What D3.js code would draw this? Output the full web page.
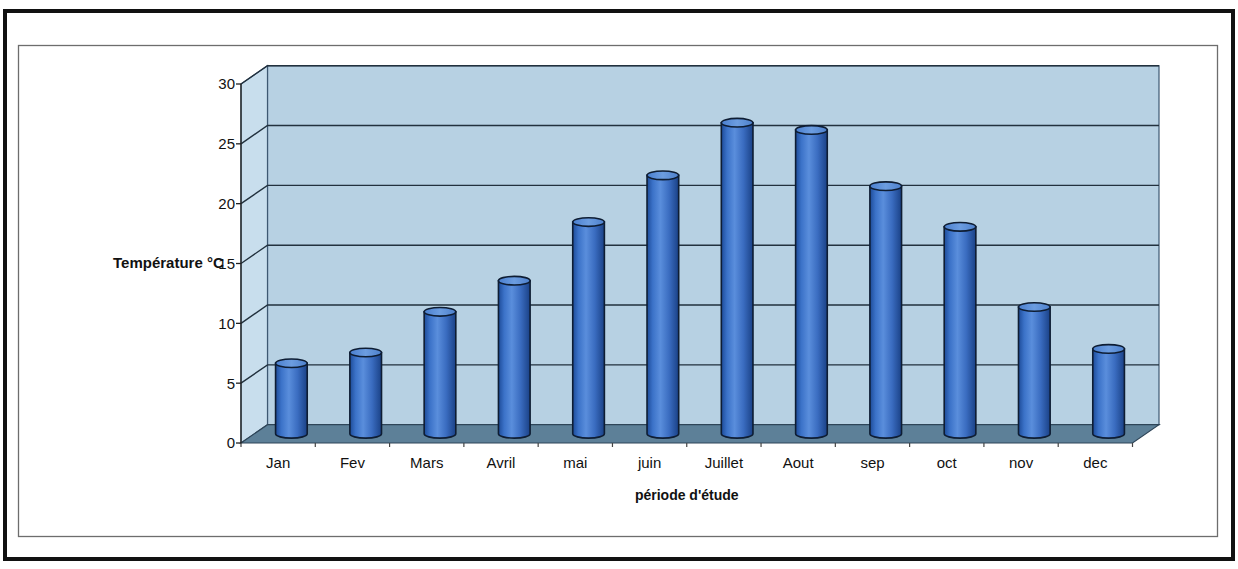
<!DOCTYPE html>
<html>
<head>
<meta charset="utf-8">
<script src="https://cdn.jsdelivr.net/npm/d3@7/dist/d3.min.js"></script>
<style>
  html, body { margin: 0; padding: 0; background: #fff; }
  svg { display: block; font-family: "Liberation Sans", Arial, sans-serif; }
</style>
</head>
<body>
<svg id="chart" width="1238" height="569"></svg>
<script>
// Monthly mean temperatures over the study period
const months = ["Jan", "Fev", "Mars", "Avril", "mai", "juin", "Juillet", "Aout", "sep", "oct", "nov", "dec"];
const temperatures = [5.9, 6.8, 10.2, 12.8, 17.7, 21.6, 26.0, 25.4, 20.7, 17.3, 10.6, 7.1];
const yTicks = [0, 5, 10, 15, 20, 25, 30];
const yTitle = "Température °C";
const xTitle = "période d'étude";

const svg = d3.select("#chart");

// 3D frame geometry: front plane plus a depth offset toward the back wall
const front = { left: 241, right: 1132.5, bottom: 443, top: 84 };
const depth = { dx: 26.5, dy: -18.3 };

const x = d3.scaleBand().domain(months).range([front.left, front.right]).padding(0);
const y = d3.scaleLinear().domain([0, 30]).range([front.bottom, front.top]);

const defs = svg.append("defs");
const grad = defs.append("linearGradient").attr("id", "cyl").attr("x1", "0%").attr("x2", "100%");
[["0%", "#1d4b98"], ["18%", "#3b72c8"], ["42%", "#5a8edc"], ["70%", "#3a6cc0"], ["100%", "#1a4186"]]
  .forEach(([o, c]) => grad.append("stop").attr("offset", o).attr("stop-color", c));
const tgrad = defs.append("linearGradient").attr("id", "cyltop").attr("x1", "0%").attr("x2", "100%");
[["0%", "#4a7fcf"], ["50%", "#6c9de0"], ["100%", "#4d80cc"]]
  .forEach(([o, c]) => tgrad.append("stop").attr("offset", o).attr("stop-color", c));

// Outer page border and inner chart area border
svg.append("rect").attr("x", 5).attr("y", 11).attr("width", 1228).attr("height", 548)
  .attr("fill", "none").attr("stroke", "#111").attr("stroke-width", 4);
svg.append("rect").attr("x", 18.5).attr("y", 45.5).attr("width", 1199).attr("height", 491)
  .attr("fill", "#fff").attr("stroke", "#6d6d6d").attr("stroke-width", 1.3);

const back = {
  left: front.left + depth.dx, right: front.right + depth.dx,
  top: front.top + depth.dy, bottom: front.bottom + depth.dy
};

// Back wall
svg.append("rect").attr("x", back.left).attr("y", back.top)
  .attr("width", back.right - back.left).attr("height", back.bottom - back.top)
  .attr("fill", "#b7d1e3").attr("stroke", "#3d5872").attr("stroke-width", 1.2);

// Side wall
svg.append("path")
  .attr("d", `M${front.left},${front.top}L${back.left},${back.top}L${back.left},${back.bottom}L${front.left},${front.bottom}Z`)
  .attr("fill", "#c8deed").attr("stroke", "#3d5872").attr("stroke-width", 1.2);

// Gridlines across side and back walls
const grid = svg.append("g").attr("stroke", "#22313e").attr("stroke-width", 1.4).attr("fill", "none");
yTicks.filter(v => v > 0).forEach(v => {
  const yf = y(v), yb = y(v) + depth.dy;
  grid.append("path").attr("d", `M${front.left},${yf}L${back.left},${yb}L${back.right},${yb}`);
});

// Floor
svg.append("path")
  .attr("d", `M${front.left},${front.bottom}L${front.right},${front.bottom}L${back.right},${back.bottom}L${back.left},${back.bottom}Z`)
  .attr("fill", "#5d8098").attr("stroke", "#2e4558").attr("stroke-width", 1.2);

// Cylinders, centred halfway into the depth
const rx = x.bandwidth() * 0.213, ry = 4.3;
const bars = svg.append("g").selectAll("g").data(months.map((m, i) => ({ m, v: temperatures[i] })))
  .join("g");
bars.each(function (d) {
  const g = d3.select(this);
  const cx = x(d.m) + x.bandwidth() / 2 + depth.dx / 2;
  const yb = y(0) + depth.dy / 2;
  const yt = y(d.v) + depth.dy / 2;
  g.append("path")
    .attr("d", `M${cx - rx},${yt}L${cx - rx},${yb}A${rx},${ry} 0 0 0 ${cx + rx},${yb}L${cx + rx},${yt}Z`)
    .attr("fill", "url(#cyl)").attr("stroke", "#0e1d33").attr("stroke-width", 1.6);
  g.append("ellipse").attr("cx", cx).attr("cy", yt).attr("rx", rx).attr("ry", ry)
    .attr("fill", "url(#cyltop)").attr("stroke", "#0e1d33").attr("stroke-width", 1.6);
});

// Value axis on the front left edge
const yAxis = svg.append("g");
yAxis.append("line").attr("x1", front.left).attr("x2", front.left)
  .attr("y1", front.top).attr("y2", front.bottom).attr("stroke", "#222").attr("stroke-width", 1.3);
yTicks.forEach(v => {
  yAxis.append("line").attr("x1", front.left - 5).attr("x2", front.left)
    .attr("y1", y(v)).attr("y2", y(v)).attr("stroke", "#222").attr("stroke-width", 1.3);
  yAxis.append("text").attr("x", front.left - 6).attr("y", y(v)).attr("dy", "0.36em")
    .attr("text-anchor", "end").attr("font-size", 15).attr("fill", "#111").text(v);
});

// Category axis along the front floor edge
const xAxis = svg.append("g");
x.domain().concat([null]).forEach((m, i) => {
  const xt = front.left + i * x.bandwidth();
  xAxis.append("line").attr("x1", xt).attr("x2", xt).attr("y1", front.bottom)
    .attr("y2", front.bottom + 4).attr("stroke", "#444").attr("stroke-width", 1.2);
});
months.forEach(m => {
  xAxis.append("text").attr("x", x(m) + x.bandwidth() / 2).attr("y", 468)
    .attr("text-anchor", "middle").attr("font-size", 15).attr("fill", "#111").text(m);
});

// Axis titles
svg.append("text").attr("x", 113).attr("y", 268).attr("font-size", 15).attr("font-weight", "bold")
  .attr("fill", "#111").text(yTitle);
svg.append("text").attr("x", (front.left + front.right) / 2).attr("y", 500)
  .attr("text-anchor", "middle").attr("font-size", 14).attr("font-weight", "bold")
  .attr("fill", "#111").text(xTitle);
</script>
</body>
</html>
